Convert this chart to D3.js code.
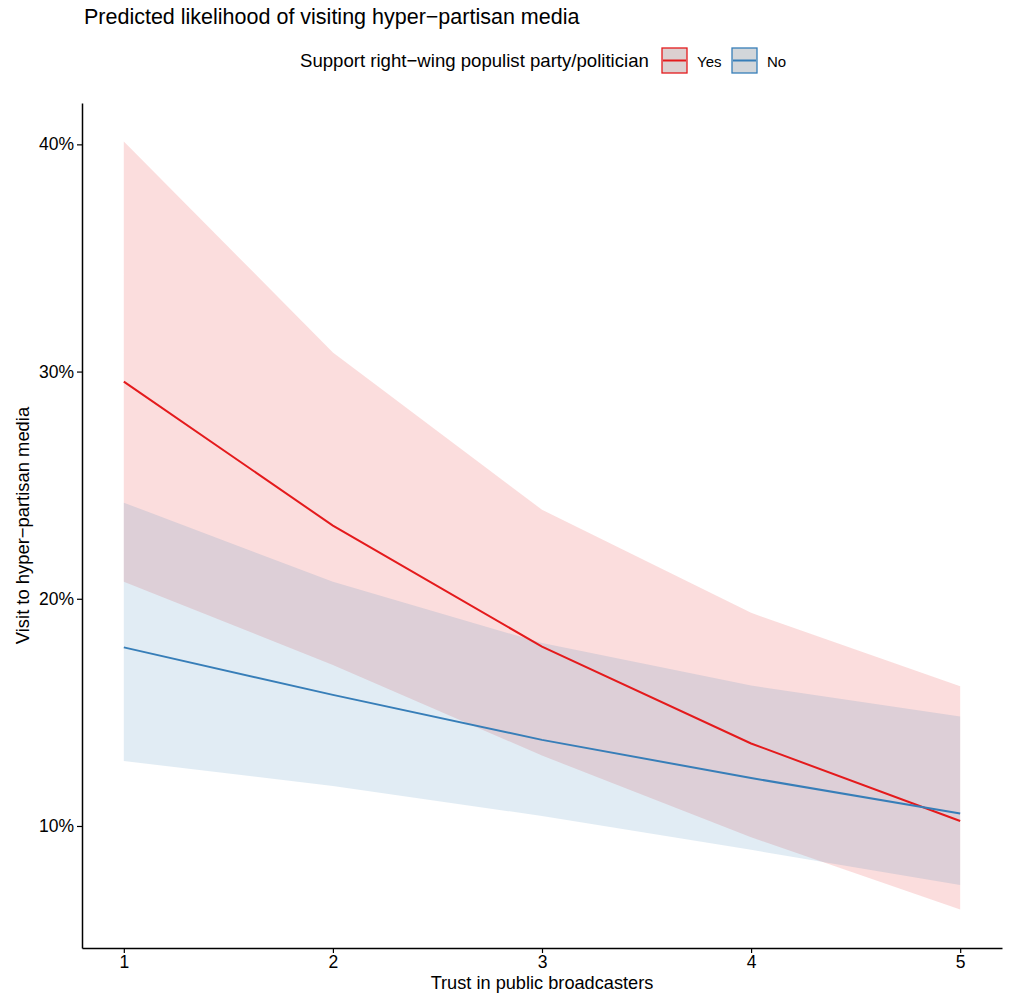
<!DOCTYPE html>
<html>
<head>
<meta charset="utf-8">
<script src="https://cdn.jsdelivr.net/npm/d3@7"></script>
<style>
  body { margin: 0; background: #fff; }
  text { font-family: "Liberation Sans", Arial, Helvetica, sans-serif; fill: #000; }
</style>
</head>
<body>
<svg width="1010" height="1002"></svg>
<script>
// --- data ---
const trust = [1, 2, 3, 4, 5];
const groups = ["Yes", "No"];
const yesFit = [29.56, 23.22, 17.89, 13.63, 10.22];
const yesLow = [20.75, 17.09, 13.10, 9.50, 6.32];
const yesHigh = [40.13, 30.84, 23.92, 19.38, 16.15];
const noFit = [17.86, 15.77, 13.79, 12.11, 10.55];
const noLow = [12.86, 11.76, 10.44, 8.95, 7.40];
const noHigh = [24.23, 20.75, 18.05, 16.18, 14.82];
const yTicks = [10, 20, 30, 40];
const xTicks = [1, 2, 3, 4, 5];
const colors = { Yes: "#e41a1c", No: "#377eb8" };

const svg = d3.select("svg");
const margin = { left: 82, right: 8, top: 103, bottom: 54 };
const width = 1010, height = 1002;

const series = [
  { key: "Yes", fit: yesFit, low: yesLow, high: yesHigh },
  { key: "No", fit: noFit, low: noLow, high: noHigh }
].map(s => ({ key: s.key, pts: trust.map((t, i) => ({ t, fit: s.fit[i], low: s.low[i], high: s.high[i] })) }));

// ggplot-style 5% expansion
const allVals = series.flatMap(s => s.pts.flatMap(p => [p.low, p.high]));
const yMin = d3.min(allVals), yMax = d3.max(allVals);
const yPad = (yMax - yMin) * 0.05;
const xPad = (d3.max(trust) - d3.min(trust)) * 0.05;

const x = d3.scaleLinear().domain([d3.min(trust) - xPad, d3.max(trust) + xPad]).range([margin.left, width - margin.right]);
const y = d3.scaleLinear().domain([yMin - yPad, yMax + yPad]).range([height - margin.bottom, margin.top]);

// ribbons
const area = d3.area().x(d => x(d.t)).y0(d => y(d.low)).y1(d => y(d.high));
svg.append("g").selectAll("path").data(series).join("path")
  .attr("d", d => area(d.pts))
  .attr("fill", d => colors[d.key])
  .attr("fill-opacity", 0.15);

// lines
const line = d3.line().x(d => x(d.t)).y(d => y(d.fit));
svg.append("g").selectAll("path").data(series).join("path")
  .attr("d", d => line(d.pts))
  .attr("fill", "none")
  .attr("stroke", d => colors[d.key])
  .attr("stroke-width", 2);

// axes
const xAxis = svg.append("g")
  .attr("transform", `translate(0,${height - margin.bottom})`)
  .call(d3.axisBottom(x).tickValues(xTicks).tickFormat(d3.format("d")).tickSize(5).tickSizeOuter(0).tickPadding(3));
const yAxis = svg.append("g")
  .attr("transform", `translate(${margin.left},0)`)
  .call(d3.axisLeft(y).tickValues(yTicks).tickFormat(d => d + "%").tickSize(5).tickSizeOuter(0).tickPadding(3));
[xAxis, yAxis].forEach(a => {
  a.select(".domain").attr("stroke", "#000").attr("stroke-width", 1.5);
  a.selectAll(".tick line").attr("stroke", "#000").attr("stroke-width", 1.2);
  a.selectAll(".tick text").attr("font-size", 17.5).attr("fill", "#1a1a1a")
    .style("font-family", '"Liberation Sans", Arial, sans-serif');
});

// titles
svg.append("text").attr("x", 84).attr("y", 24).attr("font-size", 21.5)
  .text("Predicted likelihood of visiting hyper\u2212partisan media");
svg.append("text").attr("x", (margin.left + width - margin.right) / 2).attr("y", 989)
  .attr("text-anchor", "middle").attr("font-size", 18.2).text("Trust in public broadcasters");
svg.append("text")
  .attr("transform", `translate(29,${(margin.top + height - margin.bottom) / 2}) rotate(-90)`)
  .attr("text-anchor", "middle").attr("font-size", 18.4).text("Visit to hyper\u2212partisan media");

// legend
const legend = svg.append("g").attr("transform", "translate(0,61)");
legend.append("text").attr("x", 300).attr("y", 6).attr("font-size", 18.6)
  .text("Support right\u2212wing populist party/politician");
const keyX = { Yes: 662, No: 732 };
groups.forEach(g => {
  const k = legend.append("g").attr("transform", `translate(${keyX[g]},-13)`);
  k.append("rect").attr("width", 25).attr("height", 25)
    .attr("fill", d3.interpolateRgb("#dcdcdc", colors[g])(0.06))
    .attr("stroke", colors[g]).attr("stroke-width", 1.3);
  k.append("line").attr("x1", 1).attr("x2", 24).attr("y1", 12.5).attr("y2", 12.5)
    .attr("stroke", colors[g]).attr("stroke-width", 2);
  legend.append("text").attr("x", keyX[g] + 35).attr("y", 6).attr("font-size", 15).text(g);
});
</script>
</body>
</html>
